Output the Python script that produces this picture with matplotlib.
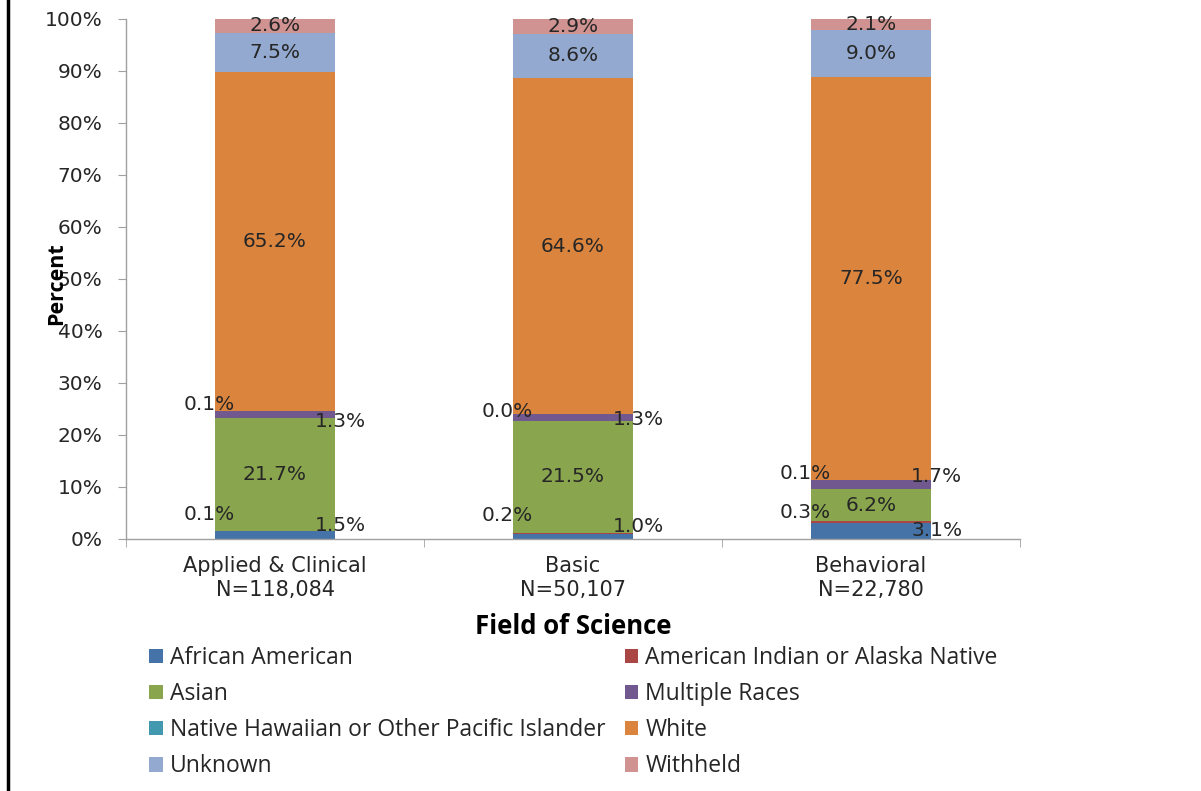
import matplotlib
matplotlib.use("Agg")
import matplotlib.pyplot as plt
from matplotlib.lines import Line2D
from matplotlib.patches import Patch
import numpy as np

fields = ["Applied & Clinical", "Basic", "Behavioral"]
field_n = ["N=118,084", "N=50,107", "N=22,780"]
races = ["African American", "American Indian or Alaska Native", "Asian",
         "Multiple Races", "Native Hawaiian or Other Pacific Islander",
         "White", "Unknown", "Withheld"]
african_american = [1.5, 1.0, 3.1]
american_indian = [0.1, 0.2, 0.3]
asian = [21.7, 21.5, 6.2]
multiple_races = [1.3, 1.3, 1.7]
native_hawaiian = [0.1, 0.0, 0.1]
white = [65.2, 64.6, 77.5]
unknown = [7.5, 8.6, 9.0]
withheld = [2.6, 2.9, 2.1]
series = [african_american, american_indian, asian, multiple_races,
          native_hawaiian, white, unknown, withheld]
y_ticks = [0, 10, 20, 30, 40, 50, 60, 70, 80, 90, 100]

colors = ["#4572A7", "#AA4643", "#89A54E", "#71588F", "#4198AF",
          "#DB843D", "#93A9CF", "#D19392"]
# label placement style: side per series ('c' centre, 'l' left edge, 'r' right edge)
label_side = ["r", "l", "c", "r", "l", "c", "c", "c"]
# vertical pixel nudges per (series, field) for small-segment labels
label_dy = {0: [10, 10, 0], 1: [16, 18, 10], 3: [-7, -2, 8], 4: [6, 3, 6]}

W, H = 1201, 791
fig = plt.figure(figsize=(W / 100, H / 100), dpi=100)
ax = fig.add_axes([126 / W, 1 - 539 / H, (1020 - 126) / W, (539 - 19) / H])

x = np.arange(len(fields))
bw = 0.40
bottom = np.zeros(len(fields))
txt_color = "#262626"
for i, vals in enumerate(series):
    vals = np.array(vals, dtype=float)
    ax.bar(x, vals, bw, bottom=bottom, color=colors[i], label=races[i],
           linewidth=0)
    for j in range(len(fields)):
        yc = bottom[j] + vals[j] / 2
        side = label_side[i]
        if side == "c":
            xx, dx = x[j], 0
        elif side == "l":
            xx, dx = x[j] - bw / 2, -6
        else:
            xx, dx = x[j] + bw / 2, 6
        dy = label_dy.get(i, [0, 0, 0])[j]
        ax.annotate(f"{vals[j]:.1f}%", (xx, yc), xytext=(dx, dy),
                    textcoords="offset pixels", ha="center", va="center",
                    fontsize=14.5, color=txt_color, family="DejaVu Sans",
                    annotation_clip=False)
    bottom += vals

ax.set_xlim(-0.5, 2.5)
ax.set_ylim(0, 100)
ax.set_yticks(y_ticks)
ax.set_yticklabels([f"{v}%" for v in y_ticks], fontsize=14.5, color=txt_color)
ax.set_xticks(x)
ax.set_xticklabels([f"{f}\n{n}" for f, n in zip(fields, field_n)],
                   fontsize=15, color=txt_color, linespacing=1.3)
ax.tick_params(axis="x", length=0, pad=12)
ax.set_xticks([-0.5, 0.5, 1.5, 2.5], minor=True)
ax.tick_params(axis="x", which="minor", length=6, color="#A0A0A0", direction="out")
ax.tick_params(axis="y", length=6, color="#A0A0A0", direction="out", pad=11)
for s in ["top", "right"]:
    ax.spines[s].set_visible(False)
for s in ["left", "bottom"]:
    ax.spines[s].set_color("#A0A0A0")
    ax.spines[s].set_linewidth(1)

ax.set_xlabel("Field of Science", fontsize=18.5, fontweight="bold",
              family="Open Sans", color="black")
ax.xaxis.set_label_coords(0.5, -(627 - 539) / 520, transform=ax.transAxes)
ax.xaxis.label.set_va("center")
ax.set_ylabel("Percent", fontsize=15.5, fontweight="bold", family="Open Sans",
              color="black")
ax.yaxis.set_label_coords(-(126 - 57) / 894, (539 - 284) / 520)
ax.yaxis.label.set_va("center")

handles = [Patch(facecolor=c, edgecolor="none") for c in colors]
order = [0, 2, 4, 6, 1, 3, 5, 7]
leg = fig.legend([handles[k] for k in order], [races[k] for k in order],
                 ncol=2, loc="upper left", bbox_to_anchor=(149 / W, 1 - 646 / H),
                 frameon=False, prop={"family": "Open Sans", "size": 16.5},
                 handlelength=0.6, handleheight=0.6, handletextpad=0.3,
                 columnspacing=0.85, labelspacing=0.53, borderaxespad=0,
                 borderpad=0)
for t in leg.get_texts():
    t.set_color(txt_color)

fig.add_artist(Line2D([8 / W, 8 / W], [0, 1], color="black", lw=2.5,
                      transform=fig.transFigure))

fig.savefig("out.png", dpi=100)
